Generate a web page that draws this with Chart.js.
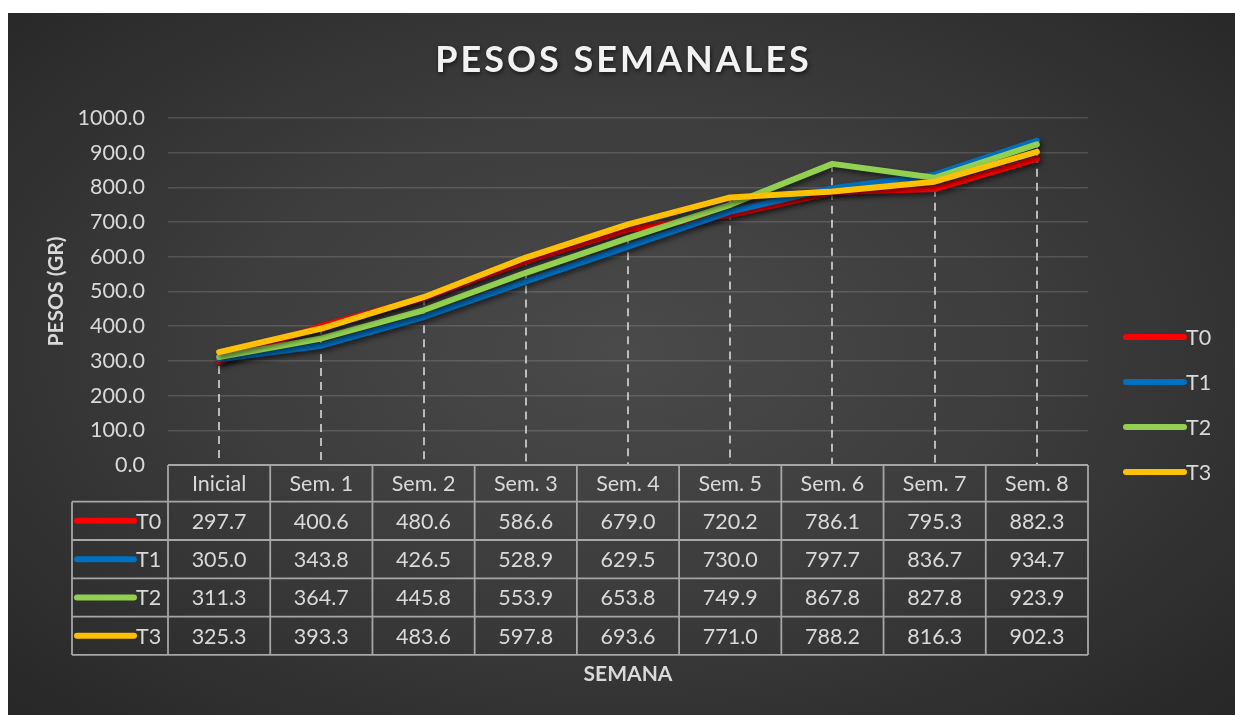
<!DOCTYPE html>
<html>
<head>
<meta charset="utf-8">
<script src="https://cdn.jsdelivr.net/npm/chart.js@4.4.1/dist/chart.umd.min.js"></script>
<style>
  html, body { margin: 0; padding: 0; background: #fff; }
  #wrap {
    position: absolute; left: 8px; top: 13px; width: 1227px; height: 702px;
    background: radial-gradient(ellipse at 50% 48%, #4a4a4a 0%, #3d3d3d 45%, #272727 100%);
  }
</style>
</head>
<body>
<div id="wrap"><canvas id="pesosChart" width="1227" height="702"></canvas></div>
<script>
const semanas = ['Inicial', 'Sem. 1', 'Sem. 2', 'Sem. 3', 'Sem. 4', 'Sem. 5', 'Sem. 6', 'Sem. 7', 'Sem. 8'];
const t0 = [297.7, 400.6, 480.6, 586.6, 679.0, 720.2, 786.1, 795.3, 882.3];
const t1 = [305.0, 343.8, 426.5, 528.9, 629.5, 730.0, 797.7, 836.7, 934.7];
const t2 = [311.3, 364.7, 445.8, 553.9, 653.8, 749.9, 867.8, 827.8, 923.9];
const t3 = [325.3, 393.3, 483.6, 597.8, 693.6, 771.0, 788.2, 816.3, 902.3];
const nombres = ['T0', 'T1', 'T2', 'T3'];
const colores = ['#FF0000', '#0070C0', '#92D050', '#FFC000'];
const yTicks = [0, 100, 200, 300, 400, 500, 600, 700, 800, 900, 1000];

const textColor = '#d9d9d9';
const font = 'Lato';

// titulo con espaciado de letras
const titlePlugin = {
    id: 'titulo',
    afterDraw(chart) {
        const ctx = chart.ctx;
        ctx.save();
        ctx.font = 'bold 36px ' + font;
        ctx.letterSpacing = '3px';
        ctx.fillStyle = '#f2f2f2';
        ctx.textAlign = 'center';
        ctx.textBaseline = 'middle';
        ctx.shadowColor = 'rgba(0,0,0,0.6)';
        ctx.shadowBlur = 4;
        ctx.shadowOffsetX = 1;
        ctx.shadowOffsetY = 2;
        ctx.fillText('PESOS SEMANALES', chart.width / 2 + 2, 47);
        ctx.restore();
    }
};

// lineas de caida punteadas
const dropLines = {
    id: 'dropLines',
    beforeDatasetsDraw(chart) {
        const ctx = chart.ctx;
        const x = chart.scales.x, y = chart.scales.y;
        ctx.save();
        ctx.strokeStyle = 'rgba(215,215,215,0.9)';
        ctx.lineWidth = 1.8;
        ctx.setLineDash([8, 6]);
        semanas.forEach((s, i) => {
            const top = Math.max(...chart.data.datasets.map(d => d.data[i]));
            const px = Math.round(x.getPixelForValue(i));
            ctx.beginPath();
            ctx.moveTo(px, y.getPixelForValue(top));
            ctx.lineTo(px, chart.chartArea.bottom);
            ctx.stroke();
        });
        ctx.restore();
    }
};

// sombra de las lineas
const lineShadow = {
    id: 'lineShadow',
    beforeDatasetDraw(chart) {
        const ctx = chart.ctx;
        ctx.shadowColor = 'rgba(0,0,0,0.55)';
        ctx.shadowBlur = 5;
        ctx.shadowOffsetX = 2;
        ctx.shadowOffsetY = 3;
    },
    afterDatasetDraw(chart) {
        const ctx = chart.ctx;
        ctx.shadowColor = 'rgba(0,0,0,0)';
        ctx.shadowBlur = 0;
        ctx.shadowOffsetX = 0;
        ctx.shadowOffsetY = 0;
    }
};

function swatch(ctx, color, x1, x2, yy) {
    ctx.save();
    ctx.strokeStyle = color;
    ctx.lineWidth = 6;
    ctx.lineCap = 'round';
    ctx.beginPath();
    ctx.moveTo(x1, yy);
    ctx.lineTo(x2, yy);
    ctx.stroke();
    ctx.restore();
}

// tabla de datos debajo del eje x
const dataTable = {
    id: 'dataTable',
    afterDraw(chart) {
        const ctx = chart.ctx;
        const area = chart.chartArea;
        const x = chart.scales.x;
        const colW = area.width / semanas.length;
        const top = area.bottom;
        const headH = 36.7, rowH = 38.3;
        const leftX = 64;
        const bottom = top + headH + rowH * nombres.length;

        ctx.save();
        ctx.strokeStyle = '#a6a6a6';
        ctx.lineWidth = 1.8;
        ctx.beginPath();
        // cabecera
        ctx.moveTo(area.left, top); ctx.lineTo(area.right, top);
        ctx.moveTo(leftX, top + headH); ctx.lineTo(area.right, top + headH);
        for (let r = 1; r <= nombres.length; r++) {
            ctx.moveTo(leftX, top + headH + rowH * r);
            ctx.lineTo(area.right, top + headH + rowH * r);
        }
        ctx.moveTo(leftX, top + headH); ctx.lineTo(leftX, bottom);
        for (let c = 0; c <= semanas.length; c++) {
            const cx = area.left + colW * c;
            ctx.moveTo(cx, top); ctx.lineTo(cx, bottom);
        }
        ctx.stroke();

        ctx.font = '21.5px ' + font;
        ctx.fillStyle = textColor;
        ctx.textBaseline = 'middle';
        ctx.textAlign = 'center';
        semanas.forEach((s, i) => {
            ctx.fillText(s, x.getPixelForValue(i), top + headH / 2 + 1);
        });
        chart.data.datasets.forEach((ds, r) => {
            const cy = top + headH + rowH * r + rowH / 2;
            ctx.textAlign = 'center';
            ds.data.forEach((v, i) => {
                ctx.fillText(v.toFixed(1), x.getPixelForValue(i), cy + 1);
            });
            swatch(ctx, ds.borderColor, 69, 126, cy);
            ctx.textAlign = 'left';
            ctx.fillText(ds.label, 128, cy + 1);
        });
        ctx.restore();
    }
};

// leyenda a la derecha
const rightLegend = {
    id: 'rightLegend',
    afterDraw(chart) {
        const ctx = chart.ctx;
        ctx.save();
        ctx.font = '21.5px ' + font;
        ctx.fillStyle = textColor;
        ctx.textBaseline = 'middle';
        ctx.textAlign = 'left';
        chart.data.datasets.forEach((ds, i) => {
            const yy = 324 + i * 45;
            swatch(ctx, ds.borderColor, 1118, 1176, yy);
            ctx.fillText(ds.label, 1178, yy + 1);
        });
        ctx.restore();
    }
};

const series = [t0, t1, t2, t3];

function build() {
    const ctx = document.getElementById('pesosChart').getContext('2d');
    new Chart(ctx, {
        type: 'line',
        data: {
            labels: semanas,
            datasets: series.map((d, i) => ({
                label: nombres[i],
                data: d,
                borderColor: colores[i],
                backgroundColor: colores[i],
                borderWidth: 6,
                borderCapStyle: 'round',
                borderJoinStyle: 'round',
                pointRadius: 0,
                tension: 0,
                order: series.length - 1 - i
            }))
        },
        options: {
            responsive: false,
            animation: false,
            layout: {
                padding: { top: 105, left: 0, right: 147, bottom: 0 }
            },
            plugins: {
                legend: { display: false },
                title: { display: false },
                tooltip: { enabled: false }
            },
            scales: {
                x: {
                    offset: true,
                    ticks: { display: false },
                    grid: { display: false },
                    border: { display: false },
                    title: {
                        display: true,
                        text: 'SEMANA',
                        color: textColor,
                        font: { family: font, size: 21, weight: 'bold' },
                        padding: { top: 0, bottom: 28 }
                    },
                    afterFit(scale) { scale.height = 250; }
                },
                y: {
                    min: 0,
                    max: 1000,
                    afterBuildTicks(scale) {
                        scale.ticks = yTicks.map(v => ({ value: v }));
                    },
                    ticks: {
                        color: textColor,
                        font: { family: font, size: 21.5 },
                        padding: 23,
                        callback: v => Number(v).toFixed(1)
                    },
                    grid: {
                        color: ctx => ctx.tick && ctx.tick.value === 0 ? 'rgba(0,0,0,0)' : 'rgba(255,255,255,0.14)',
                        lineWidth: 1.5,
                        drawTicks: false
                    },
                    border: { display: false },
                    title: {
                        display: true,
                        text: 'PESOS (GR)',
                        color: textColor,
                        font: { family: font, size: 21, weight: 'bold' },
                        padding: { top: 36, bottom: 0 }
                    },
                    afterFit(scale) { scale.width = 160; }
                }
            }
        },
        plugins: [dropLines, lineShadow, dataTable, rightLegend, titlePlugin]
    });
}

Promise.all([
    document.fonts.load('21px Lato'),
    document.fonts.load('bold 36px Lato')
]).then(build, build);
</script>
</body>
</html>
